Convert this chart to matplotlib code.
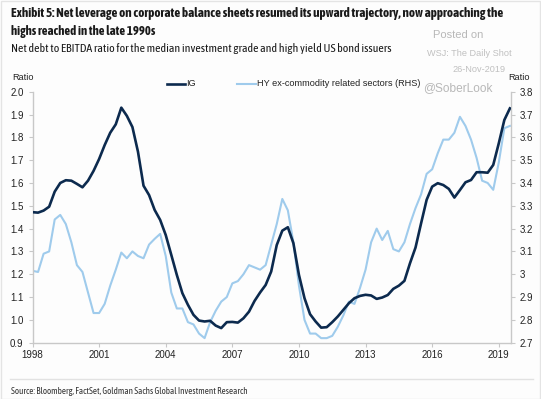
import matplotlib
matplotlib.use("Agg")
import matplotlib.pyplot as plt
from matplotlib.lines import Line2D
from matplotlib import font_manager
import numpy as np

# Quarterly data, 1998Q1 .. 2019Q3
start_year = 1998.0
ig = [1.472, 1.470, 1.479, 1.496,
      1.562, 1.600, 1.612, 1.610,
      1.596, 1.581, 1.610, 1.653,
      1.705, 1.766, 1.820, 1.857,
      1.930, 1.894, 1.845, 1.737,
      1.588, 1.547, 1.482, 1.438,
      1.372, 1.285, 1.197, 1.117,
      1.066, 1.022, 0.997, 0.993,
      0.996, 0.975, 0.964, 0.990,
      0.991, 0.988, 1.007, 1.036,
      1.083, 1.120, 1.153, 1.212,
      1.328, 1.391, 1.406, 1.336,
      1.197, 1.095, 1.025, 0.993,
      0.966, 0.968, 0.990, 1.015,
      1.044, 1.073, 1.095, 1.105,
      1.110, 1.107, 1.092, 1.098,
      1.109, 1.136, 1.150, 1.171,
      1.248, 1.317, 1.423, 1.526,
      1.584, 1.599, 1.591, 1.574,
      1.536, 1.569, 1.603, 1.613,
      1.647, 1.647, 1.645, 1.679,
      1.774, 1.876, 1.927]
hy = [3.015, 3.010, 3.090, 3.100,
      3.240, 3.260, 3.220, 3.140,
      3.040, 3.010, 2.920, 2.830,
      2.830, 2.870, 2.950, 3.020,
      3.095, 3.070, 3.100, 3.080,
      3.070, 3.130, 3.155, 3.177,
      3.080, 2.920, 2.850, 2.850,
      2.790, 2.780, 2.740, 2.720,
      2.790, 2.840, 2.880, 2.900,
      2.960, 2.970, 3.000, 3.040,
      3.030, 3.020, 3.040, 3.130,
      3.220, 3.330, 3.280, 3.140,
      2.950, 2.800, 2.740, 2.740,
      2.720, 2.720, 2.730, 2.770,
      2.820, 2.880, 2.870, 2.940,
      3.020, 3.140, 3.200, 3.150,
      3.190, 3.110, 3.100, 3.140,
      3.220, 3.290, 3.350, 3.440,
      3.460, 3.530, 3.590, 3.590,
      3.620, 3.690, 3.650, 3.590,
      3.510, 3.410, 3.400, 3.370,
      3.490, 3.640, 3.650]
x_ticks = [1998, 2001, 2004, 2007, 2010, 2013, 2016, 2019]
left_ticks = [0.9, 1.0, 1.1, 1.2, 1.3, 1.4, 1.5, 1.6, 1.7, 1.8, 1.9, 2.0]
right_ticks = [2.7, 2.8, 2.9, 3.0, 3.1, 3.2, 3.3, 3.4, 3.5, 3.6, 3.7, 3.8]
right_labels = ["2.7", "2.8", "2.9", "3", "3.1", "3.2", "3.3", "3.4", "3.5", "3.6", "3.7", "3.8"]

years = start_year + np.arange(len(ig)) * 0.25

NAVY = "#0c2a4e"
LIGHT = "#9fcbec"

# look for a narrow / condensed family, else Liberation Sans
narrow = None
names = {}
for f in font_manager.fontManager.ttflist:
    n = f.name
    if ("Narrow" in n or "Condensed" in n) and "Mono" not in n:
        names.setdefault(n, set()).add(f.weight)
for n, w in names.items():
    if any((isinstance(x, int) and x >= 600) or x == "bold" for x in w):
        narrow = n
        break
if narrow is None and names:
    narrow = sorted(names)[0]
FONT = [narrow, "Liberation Sans", "DejaVu Sans"] if narrow else ["Liberation Sans", "DejaVu Sans"]
FONT2 = ["Liberation Sans", "DejaVu Sans"]

W, H = 541, 399
fig = plt.figure(figsize=(W / 100, H / 100), dpi=100)
fig.patch.set_facecolor("#fdfdfd")

def fx(px):
    return px / W

def fy(py):
    return 1 - py / H

ax = fig.add_axes([fx(32.5), fy(342.7), fx(511) - fx(32.5), fy(91.7) - fy(342.7)])
ax.set_facecolor("none")
ax2 = ax.twinx()

ax.plot(years, ig, color=NAVY, lw=1.9, zorder=3)
ax2.plot(years, hy, color=LIGHT, lw=1.5, zorder=2)
ax.set_zorder(ax2.get_zorder() + 1)

ax.set_xlim(1998, 2019.55)
ax.set_ylim(0.9, 2.0)
ax2.set_ylim(2.7, 3.8)
ax.set_xticks(x_ticks)
ax.set_xticklabels([str(t) for t in x_ticks])
ax.set_yticks(left_ticks)
ax.set_yticklabels([f"{t:.1f}" for t in left_ticks])
ax2.set_yticks(right_ticks)
ax2.set_yticklabels(right_labels)

for a in (ax, ax2):
    for s in a.spines.values():
        s.set_visible(False)
ax.spines["left"].set_visible(True)
ax.spines["bottom"].set_visible(True)
ax2.spines["right"].set_visible(True)
for s in (ax.spines["left"], ax.spines["bottom"], ax2.spines["right"]):
    s.set_color("#c8c8c8")
    s.set_linewidth(1.0)

ax.tick_params(axis="both", colors="#c8c8c8", labelcolor="#222222",
               labelsize=7, length=3, width=0.8)
ax.tick_params(axis="x", pad=2)
ax2.tick_params(axis="y", colors="#c8c8c8", labelcolor="#222222",
                labelsize=7, length=3, width=0.8)
for lab in ax.get_xticklabels() + ax.get_yticklabels() + ax2.get_yticklabels():
    lab.set_family(FONT2)

# Titles (sized to the reference widths)
t1 = fig.text(fx(11), fy(14), "Exhibit 5: Net leverage on corporate balance sheets resumed its upward trajectory, now approaching the",
              fontsize=9.6, fontweight="bold", family=FONT, va="center", ha="left", color="#1a1a1a")
t2 = fig.text(fx(11), fy(31), "highs reached in the late 1990s",
              fontsize=9.6, fontweight="bold", family=FONT, va="center", ha="left", color="#1a1a1a")
t3 = fig.text(fx(11), fy(48), "Net debt to EBITDA ratio for the median investment grade and high yield US bond issuers",
              fontsize=9.0, family=FONT, va="center", ha="left", color="#1a1a1a")
src = fig.text(fx(11), fy(391), "Source: Bloomberg, FactSet, Goldman Sachs Global Investment Research",
               fontsize=7.2, family=FONT, color="#333333", va="center", ha="left")

fig.text(fx(433), fy(35), "Posted on", fontsize=8.0, family=FONT2, color="#b8b8b8", va="center", ha="left")
fig.text(fx(427), fy(53), "WSJ: The Daily Shot", fontsize=6.6, family=FONT2, color="#c0c0c0", va="center", ha="left")
fig.text(fx(505), fy(69), "26-Nov-2019", fontsize=6.6, family=FONT2, color="#c0c0c0", va="center", ha="right")
fig.text(fx(423), fy(88), "@SoberLook", fontsize=8.6, family=FONT2, color="#b8b8b8", va="center", ha="left")

fig.text(fx(12), fy(77), "Ratio", fontsize=6.6, family=FONT2, color="#222222", va="center", ha="left")
fig.text(fx(508), fy(77), "Ratio", fontsize=6.6, family=FONT2, color="#222222", va="center", ha="left")

# Legend
fig.add_artist(Line2D([fx(167), fx(185)], [fy(83.5), fy(83.5)], color=NAVY, lw=1.9))
fig.text(fx(186), fy(83.5), "IG", fontsize=6.6, family=FONT2, color="#222222", va="center", ha="left")
fig.add_artist(Line2D([fx(237), fx(256)], [fy(83.5), fy(83.5)], color=LIGHT, lw=1.5))
fig.text(fx(257), fy(83.5), "HY ex-commodity related sectors (RHS)", fontsize=6.6, family=FONT2,
         color="#222222", va="center", ha="left")

# Separator and frame
fig.add_artist(Line2D([fx(10), fx(533)], [fy(379), fy(379)], color="#e2e2e2", lw=1.0))
fig.add_artist(plt.Rectangle((0.001, 0.001), 0.997, 0.997, transform=fig.transFigure,
                             fill=False, edgecolor="#e4e4e4", lw=1.0))

# fit text widths to reference
fig.canvas.draw()
renderer = fig.canvas.get_renderer()
for t, target in ((t1, 493), (t2, 145), (t3, 380), (src, 239)):
    for _ in range(2):
        w = t.get_window_extent(renderer).width
        t.set_fontsize(t.get_fontsize() * target / w)

fig.savefig("out.png", dpi=100, facecolor=fig.get_facecolor())
